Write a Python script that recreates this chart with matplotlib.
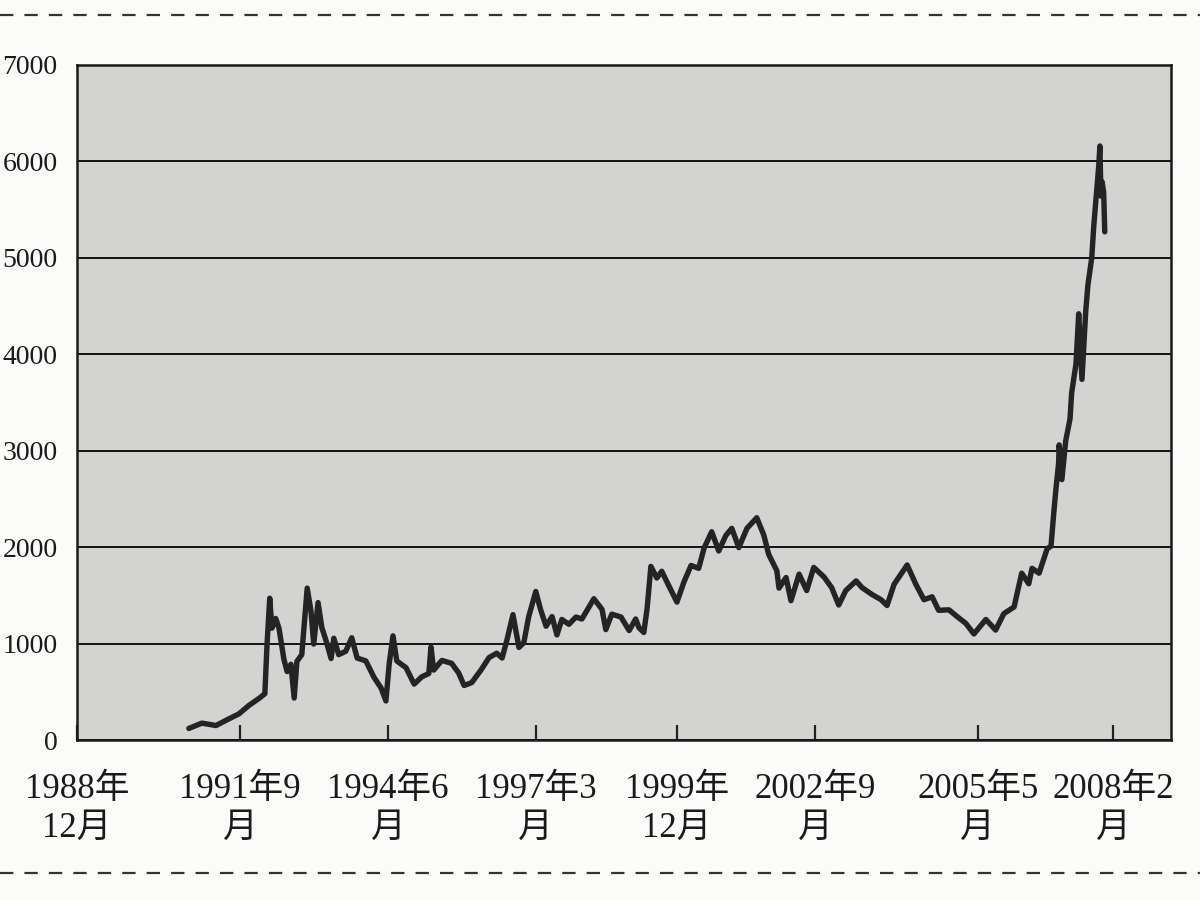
import matplotlib
matplotlib.use("Agg")
import matplotlib.pyplot as plt
from matplotlib.lines import Line2D

# ---- data ----
years = [
    1990.98, 1991.22, 1991.48, 1991.72, 1991.90, 1992.09, 1992.27, 1992.38, 1992.42, 1992.47,
    1992.51, 1992.58, 1992.64, 1992.73, 1992.79, 1992.86, 1992.92, 1992.97, 1993.06, 1993.10,
    1993.16, 1993.23, 1993.28, 1993.36, 1993.43, 1993.51, 1993.60, 1993.65, 1993.74, 1993.87,
    1993.98, 1994.08, 1994.24, 1994.39, 1994.52, 1994.61, 1994.67, 1994.74, 1994.81, 1994.98,
    1995.13, 1995.27, 1995.40, 1995.44, 1995.49, 1995.64, 1995.82, 1995.95, 1996.05, 1996.19,
    1996.36, 1996.51, 1996.65, 1996.75, 1996.84, 1996.95, 1997.06, 1997.15, 1997.24, 1997.37,
    1997.46, 1997.56, 1997.67, 1997.76, 1997.85, 1997.98, 1998.11, 1998.22, 1998.44, 1998.59,
    1998.66, 1998.77, 1998.94, 1999.09, 1999.21, 1999.27, 1999.36, 1999.42, 1999.49, 1999.60,
    1999.69, 1999.82, 1999.97, 2000.10, 2000.23, 2000.37, 2000.47, 2000.61, 2000.74, 2000.87,
    2000.98, 2001.11, 2001.26, 2001.44, 2001.57, 2001.66, 2001.81, 2001.85, 2001.98, 2002.07,
    2002.22, 2002.36, 2002.49, 2002.68, 2002.82, 2002.95, 2003.08, 2003.27, 2003.38, 2003.56,
    2003.73, 2003.84, 2003.97, 2004.21, 2004.37, 2004.52, 2004.67, 2004.79, 2004.98, 2005.13,
    2005.29, 2005.44, 2005.66, 2005.84, 2005.99, 2006.18, 2006.32, 2006.45, 2006.51, 2006.64,
    2006.79, 2006.86, 2006.91, 2006.95, 2007.00, 2007.01, 2007.06, 2007.13, 2007.21, 2007.24,
    2007.32, 2007.37, 2007.43, 2007.46, 2007.50, 2007.54, 2007.61, 2007.65, 2007.69, 2007.74,
    2007.76, 2007.78, 2007.80, 2007.83, 2007.85,
]
index_values = [
    120, 175, 150, 220, 270, 360, 430, 480, 990, 1470,
    1160, 1260, 1160, 840, 710, 785, 435, 815, 885, 1165,
    1575, 1335, 995, 1425, 1165, 1025, 845, 1055, 885, 920,
    1060, 850, 820, 650, 540, 405, 790, 1080, 820, 750,
    580, 655, 690, 965, 725, 825, 795, 695, 565, 595,
    725, 855, 900, 850, 1040, 1300, 960, 1010, 1280, 1540,
    1350, 1180, 1280, 1090, 1250, 1200, 1275, 1255, 1465, 1355,
    1145, 1305, 1275, 1135, 1255, 1165, 1115, 1360, 1800, 1680,
    1750, 1600, 1430, 1640, 1810, 1780, 1990, 2160, 1960, 2120,
    2195, 1995, 2195, 2305, 2125, 1925, 1755, 1575, 1685, 1445,
    1720, 1550, 1790, 1690, 1580, 1400, 1550, 1650, 1580, 1510,
    1455, 1395, 1615, 1815, 1615, 1455, 1485, 1345, 1350, 1280,
    1210, 1100, 1250, 1140, 1310, 1380, 1730, 1620, 1780, 1730,
    1985, 2010, 2350, 2600, 2870, 3060, 2700, 3100, 3330, 3600,
    3900, 4420, 3740, 4040, 4450, 4720, 5000, 5350, 5620, 5960,
    6160, 5640, 5790, 5680, 5270,
]

x_tick_positions = [1988.92, 1991.92, 1994.65, 1997.37, 1999.97, 2002.51, 2005.51, 2008.00]
x_tick_labels = ["1988年\n12月", "1991年9\n月", "1994年6\n月", "1997年3\n月",
                 "1999年\n12月", "2002年9\n月", "2005年5\n月", "2008年2\n月"]
y_ticks = [0, 1000, 2000, 3000, 4000, 5000, 6000, 7000]
y_tick_labels = [str(v) for v in y_ticks]

FONT = ["Liberation Serif", "Noto Sans CJK SC", "DejaVu Sans"]

fig = plt.figure(figsize=(12, 9), dpi=100, facecolor="#fbfbfa")
ax = fig.add_axes([77 / 1200, 1 - 740 / 900, (1171 - 77) / 1200, (740 - 65) / 900])
ax.set_facecolor("#d3d3d1")

ax.plot(years, index_values, color="#242424", lw=3.9, solid_joinstyle="round",
        solid_capstyle="round", zorder=3)

ax.set_xlim(1988.92, 2009.07)
ax.set_ylim(0, 7000)

ax.set_yticks(y_ticks)
ax.set_yticklabels(y_tick_labels, fontfamily=FONT, fontsize=20, color="#1a1a1a")
ax.set_xticks(x_tick_positions)
ax.set_xticklabels(x_tick_labels, fontfamily=FONT, fontsize=25, color="#1a1a1a",
                   linespacing=1.22)

ax.tick_params(axis="y", length=0, pad=14)
ax.tick_params(axis="x", direction="in", length=11, width=1.6, color="#222222", pad=24)

ax.grid(axis="y", color="#111111", lw=1.4, zorder=1)
ax.set_axisbelow(True)
for s in ax.spines.values():
    s.set_color("#1a1a1a")
    s.set_linewidth(1.8)

# dashed separator lines above and below the chart
for yy in (1 - 15 / 900, 1 - 873 / 900):
    fig.add_artist(Line2D([0, 1], [yy, yy], transform=fig.transFigure,
                          color="#333333", lw=1.6, dashes=(6, 5)))

fig.savefig("out.png", dpi=100, facecolor=fig.get_facecolor())
